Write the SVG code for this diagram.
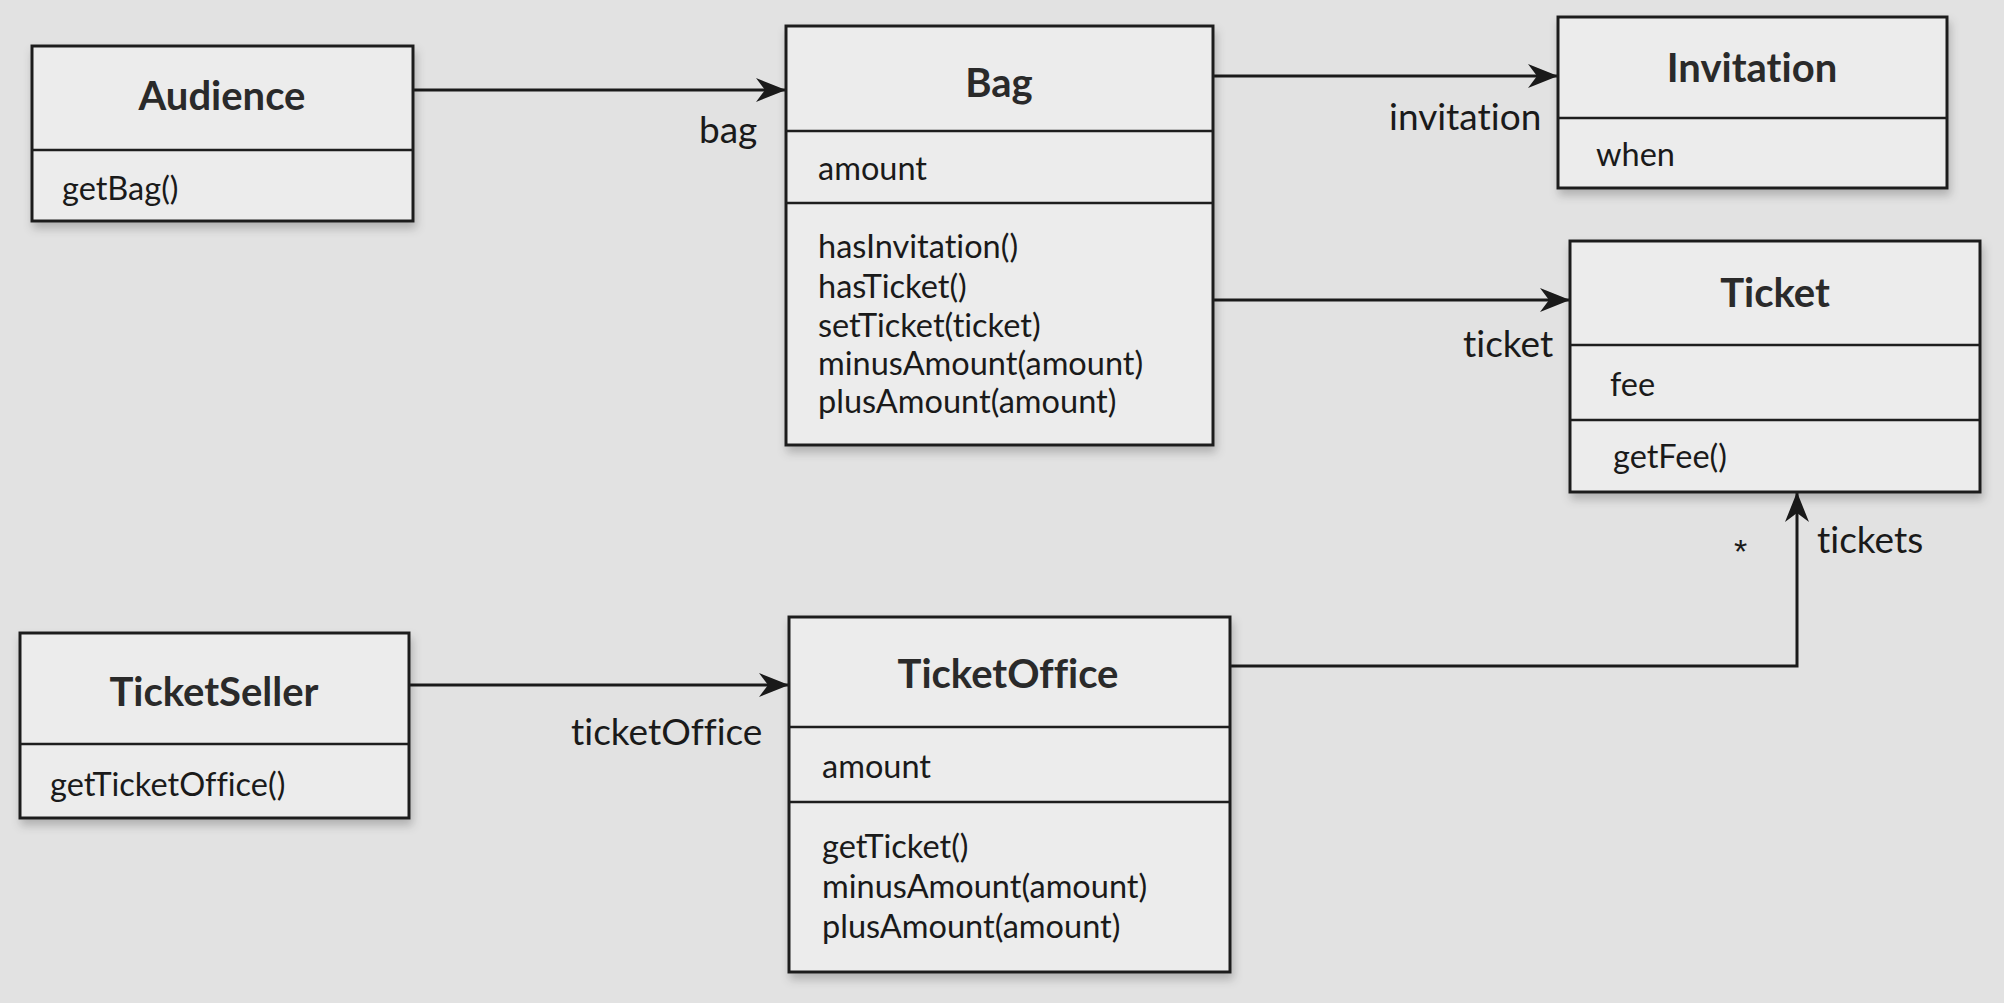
<svg xmlns="http://www.w3.org/2000/svg" width="2004" height="1003" viewBox="0 0 2004 1003">
<style>
.bg{fill:#e2e2e2}
.box{fill:#ececec;stroke:#1e1e1e;stroke-width:3}
.sep{stroke:#1e1e1e;stroke-width:2.5}
text{font-variant-ligatures:none;font-feature-settings:"liga" 0,"clig" 0,"dlig" 0}
.title{font-family:Lato,"Noto Sans",sans-serif;font-weight:bold;font-size:40px;fill:#2a2a2a;text-anchor:middle}
.mem{font-family:Lato,"Noto Sans",sans-serif;font-size:32.5px;fill:#1a1a1a}
.lbl{font-family:Lato,"Noto Sans",sans-serif;font-size:37px;fill:#1a1a1a}
.star{font-family:"Liberation Sans",sans-serif;font-size:34px;fill:#1a1a1a}
.conn{stroke:#1a1a1a;stroke-width:3;fill:none}
</style>
<defs>
<marker id="arr" markerUnits="userSpaceOnUse" markerWidth="32" markerHeight="24" refX="30" refY="12" orient="auto">
<path d="M0,0 L30,12 L0,24 L9,12 Z" fill="#1a1a1a"/>
</marker>
<filter id="sh" x="-5%" y="-5%" width="112%" height="115%">
<feDropShadow dx="2" dy="6" stdDeviation="5" flood-color="#000" flood-opacity="0.22"/>
</filter>
</defs>
<rect class="bg" x="0" y="0" width="2004" height="1003"/>

<g id="connectors">
<path class="conn" d="M413,90 L786,90" marker-end="url(#arr)"/>
<path class="conn" d="M1213,76 L1558,76" marker-end="url(#arr)"/>
<path class="conn" d="M1213,300 L1570,300" marker-end="url(#arr)"/>
<path class="conn" d="M409,685 L789,685" marker-end="url(#arr)"/>
<path class="conn" d="M1230,666 L1797,666 L1797,492" marker-end="url(#arr)"/>
<text class="lbl" x="699" y="143">bag</text>
<text class="lbl" x="1389" y="130">invitation</text>
<text class="lbl" x="1463" y="357">ticket</text>
<text class="lbl" x="571" y="745">ticketOffice</text>
<text class="lbl" x="1817" y="553">tickets</text>
<text class="star" x="1734" y="563">*</text>
</g>

<g id="audience">
<rect class="box" x="32" y="46" width="381" height="175" filter="url(#sh)"/>
<line class="sep" x1="32" y1="150" x2="413" y2="150"/>
<text class="title" x="222" y="110">Audience</text>
<text class="mem" x="62" y="200">getBag()</text>
</g>

<g id="bag">
<rect class="box" x="786" y="26" width="427" height="419" filter="url(#sh)"/>
<line class="sep" x1="786" y1="131" x2="1213" y2="131"/>
<line class="sep" x1="786" y1="203" x2="1213" y2="203"/>
<text class="title" x="999" y="97">Bag</text>
<text class="mem" x="818" y="180">amount</text>
<text class="mem" x="818" y="258">hasInvitation()</text>
<text class="mem" x="818" y="298">hasTicket()</text>
<text class="mem" x="818" y="337">setTicket(ticket)</text>
<text class="mem" x="818" y="375">minusAmount(amount)</text>
<text class="mem" x="818" y="413">plusAmount(amount)</text>
</g>

<g id="invitation">
<rect class="box" x="1558" y="17" width="389" height="171" filter="url(#sh)"/>
<line class="sep" x1="1558" y1="118" x2="1947" y2="118"/>
<text class="title" x="1752" y="82">Invitation</text>
<text class="mem" x="1596" y="166">when</text>
</g>

<g id="ticket">
<rect class="box" x="1570" y="241" width="410" height="251" filter="url(#sh)"/>
<line class="sep" x1="1570" y1="345" x2="1980" y2="345"/>
<line class="sep" x1="1570" y1="420" x2="1980" y2="420"/>
<text class="title" x="1775" y="307">Ticket</text>
<text class="mem" x="1610" y="396">fee</text>
<text class="mem" x="1613" y="468">getFee()</text>
</g>

<g id="ticketseller">
<rect class="box" x="20" y="633" width="389" height="185" filter="url(#sh)"/>
<line class="sep" x1="20" y1="744" x2="409" y2="744"/>
<text class="title" x="214" y="706">TicketSeller</text>
<text class="mem" x="50" y="796">getTicketOffice()</text>
</g>

<g id="ticketoffice">
<rect class="box" x="789" y="617" width="441" height="355" filter="url(#sh)"/>
<line class="sep" x1="789" y1="727" x2="1230" y2="727"/>
<line class="sep" x1="789" y1="802" x2="1230" y2="802"/>
<text class="title" x="1008" y="688">TicketOffice</text>
<text class="mem" x="822" y="778">amount</text>
<text class="mem" x="822" y="858">getTicket()</text>
<text class="mem" x="822" y="898">minusAmount(amount)</text>
<text class="mem" x="822" y="938">plusAmount(amount)</text>
</g>
</svg>
